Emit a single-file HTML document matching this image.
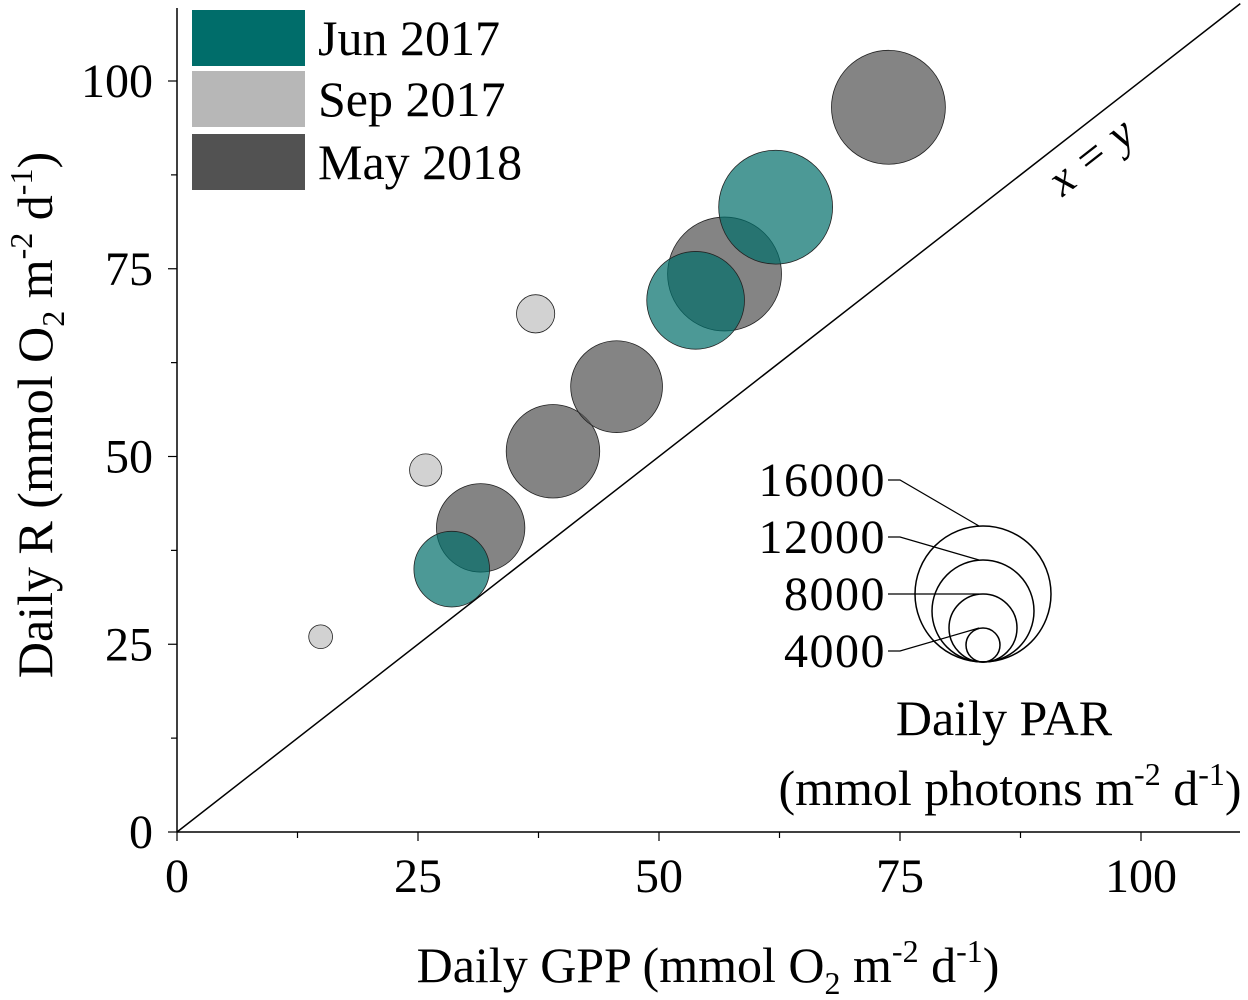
<!DOCTYPE html>
<html><head><meta charset="utf-8"><style>
body{margin:0;background:#fff;}
svg{display:block;font-family:"Liberation Serif",serif;}
</style></head><body>
<svg id="chart" width="1248" height="1000" viewBox="0 0 1248 1000">
<g id="axes"></g>
<g id="bubbles"></g>
<g id="legend"></g>
</svg>
<script>
const seriesNames=["Jun 2017","Sep 2017","May 2018"];
const junGPP=[28.5,53.8,62.1];
const junR=[35,70.8,83.2];
const junPAR=[8900,11500,13400];
const sepGPP=[14.9,25.8,37.2];
const sepR=[26,48.2,69.0];
const sepPAR=[2800,3800,4500];
const mayGPP=[31.5,39,45.6,56.8,73.8];
const mayR=[40.5,50.7,59.3,74.3,96.5];
const mayPAR=[10400,11000,10800,13400,13400];
const xTicks=[0,25,50,75,100];
const yTicks=[0,25,50,75,100];
const sizeLegend=[16000,12000,8000,4000];

const NS="http://www.w3.org/2000/svg";
const X0=177,Y0=832,XS=9.64,YS=7.51;
const sx=v=>X0+v*XS, sy=v=>Y0-v*YS, sr=p=>p*68/16000;
function mk(tag,attrs,parent,text){const e=document.createElementNS(NS,tag);for(const k in attrs)e.setAttribute(k,attrs[k]);if(text!==undefined)e.textContent=text;parent.appendChild(e);return e;}
const axes=document.getElementById('axes');
let e;
e=mk('line',{x1:X0,y1:Y0,x2:1240,y2:Y0,stroke:'#000','stroke-width':1.5},axes);


e=mk('line',{x1:X0,y1:Y0,x2:X0,y2:8,stroke:'#000','stroke-width':1.5},axes);


for(let v=0;v<=110;v+=12.5){
  const major=v%25===0;
  mk('line',{x1:sx(v),y1:Y0,x2:sx(v),y2:Y0+(major?9:6),stroke:'#000','stroke-width':1.2},axes);
  mk('line',{x1:X0,y1:sy(v),x2:X0-(major?9:6),y2:sy(v),stroke:'#000','stroke-width':1.2},axes);
}
xTicks.forEach(v=>{e=mk('text',{x:sx(v),y:892,'font-size':48,'text-anchor':'middle'},axes,String(v));

});
yTicks.forEach(v=>{e=mk('text',{x:153,y:sy(v)+16,'font-size':48,'text-anchor':'end'},axes,String(v));

});
e=mk('text',{x:708,y:982,'font-size':50,'text-anchor':'middle'},axes);
e.innerHTML='Daily GPP (mmol O<tspan font-size="32" dy="12">2</tspan><tspan dy="-12"> m</tspan><tspan font-size="32" dy="-20">-2</tspan><tspan dy="20"> d</tspan><tspan font-size="32" dy="-20">-1</tspan><tspan dy="20">)</tspan>';


e=mk('text',{x:0,y:0,'font-size':50,'text-anchor':'middle',transform:'translate(52,415) rotate(-90)'},axes);
e.innerHTML='Daily R (mmol O<tspan font-size="32" dy="12">2</tspan><tspan dy="-12"> m</tspan><tspan font-size="32" dy="-20">-2</tspan><tspan dy="20"> d</tspan><tspan font-size="32" dy="-20">-1</tspan><tspan dy="20">)</tspan>';


e=mk('line',{x1:sx(0),y1:sy(0),x2:sx(110.3),y2:sy(110.3),stroke:'#000','stroke-width':1.5},axes);


e=mk('text',{x:0,y:0,'font-size':46,'font-style':'italic','text-anchor':'middle',transform:'translate(1100,168) rotate(-38)'},axes,'x = y');


const bub=document.getElementById('bubbles');
function drawSeries(xs,ys,ps,fill,name){
  xs.forEach((x,i)=>{e=mk('circle',{cx:sx(x),cy:sy(ys[i]),r:sr(ps[i]),fill:fill,stroke:'#222','stroke-width':0.8},bub);
  
  });
}
drawSeries(sepGPP,sepR,sepPAR,'rgba(180,180,180,0.6)','sep-2017');
drawSeries(mayGPP,mayR,mayPAR,'rgba(85,85,85,0.72)','may-2018');
drawSeries(junGPP,junR,junPAR,'rgba(0,110,106,0.7)','jun-2017');
const leg=document.getElementById('legend');
const legColors=['#006d6a','#b7b7b7','#525252'];
const legY=[10,71,134];
seriesNames.forEach((n,i)=>{
  e=mk('rect',{x:192,y:legY[i],width:113,height:56,fill:legColors[i]},leg);
  
  
  e=mk('text',{x:318,y:legY[i]+45,'font-size':50},leg,n);
  
  
});
const CX=983,CB=662;
sizeLegend.forEach((p,i)=>{
  const r=sr(p);
  e=mk('circle',{cx:CX,cy:CB-r,r:r,fill:'none',stroke:'#000','stroke-width':1.5},leg);
  
  
  const ly=480+i*57;
  e=mk('text',{x:886,y:ly+16,'font-size':48,'letter-spacing':1.5,'text-anchor':'end'},leg,String(p));
  
  
  const ty=CB-2*r;
  mk('polyline',{points:`888,${ly} 900,${ly} ${CX-4},${ty}`,fill:'none',stroke:'#000','stroke-width':1.2},leg);
});
e=mk('text',{x:1004,y:735,'font-size':50,'text-anchor':'middle'},leg,'Daily PAR');


e=mk('text',{x:1010,y:805,'font-size':50,'text-anchor':'middle'},leg);
e.innerHTML='(mmol photons m<tspan font-size="32" dy="-20">-2</tspan><tspan dy="20"> d</tspan><tspan font-size="32" dy="-20">-1</tspan><tspan dy="20">)</tspan>';


</script>
</body></html>
